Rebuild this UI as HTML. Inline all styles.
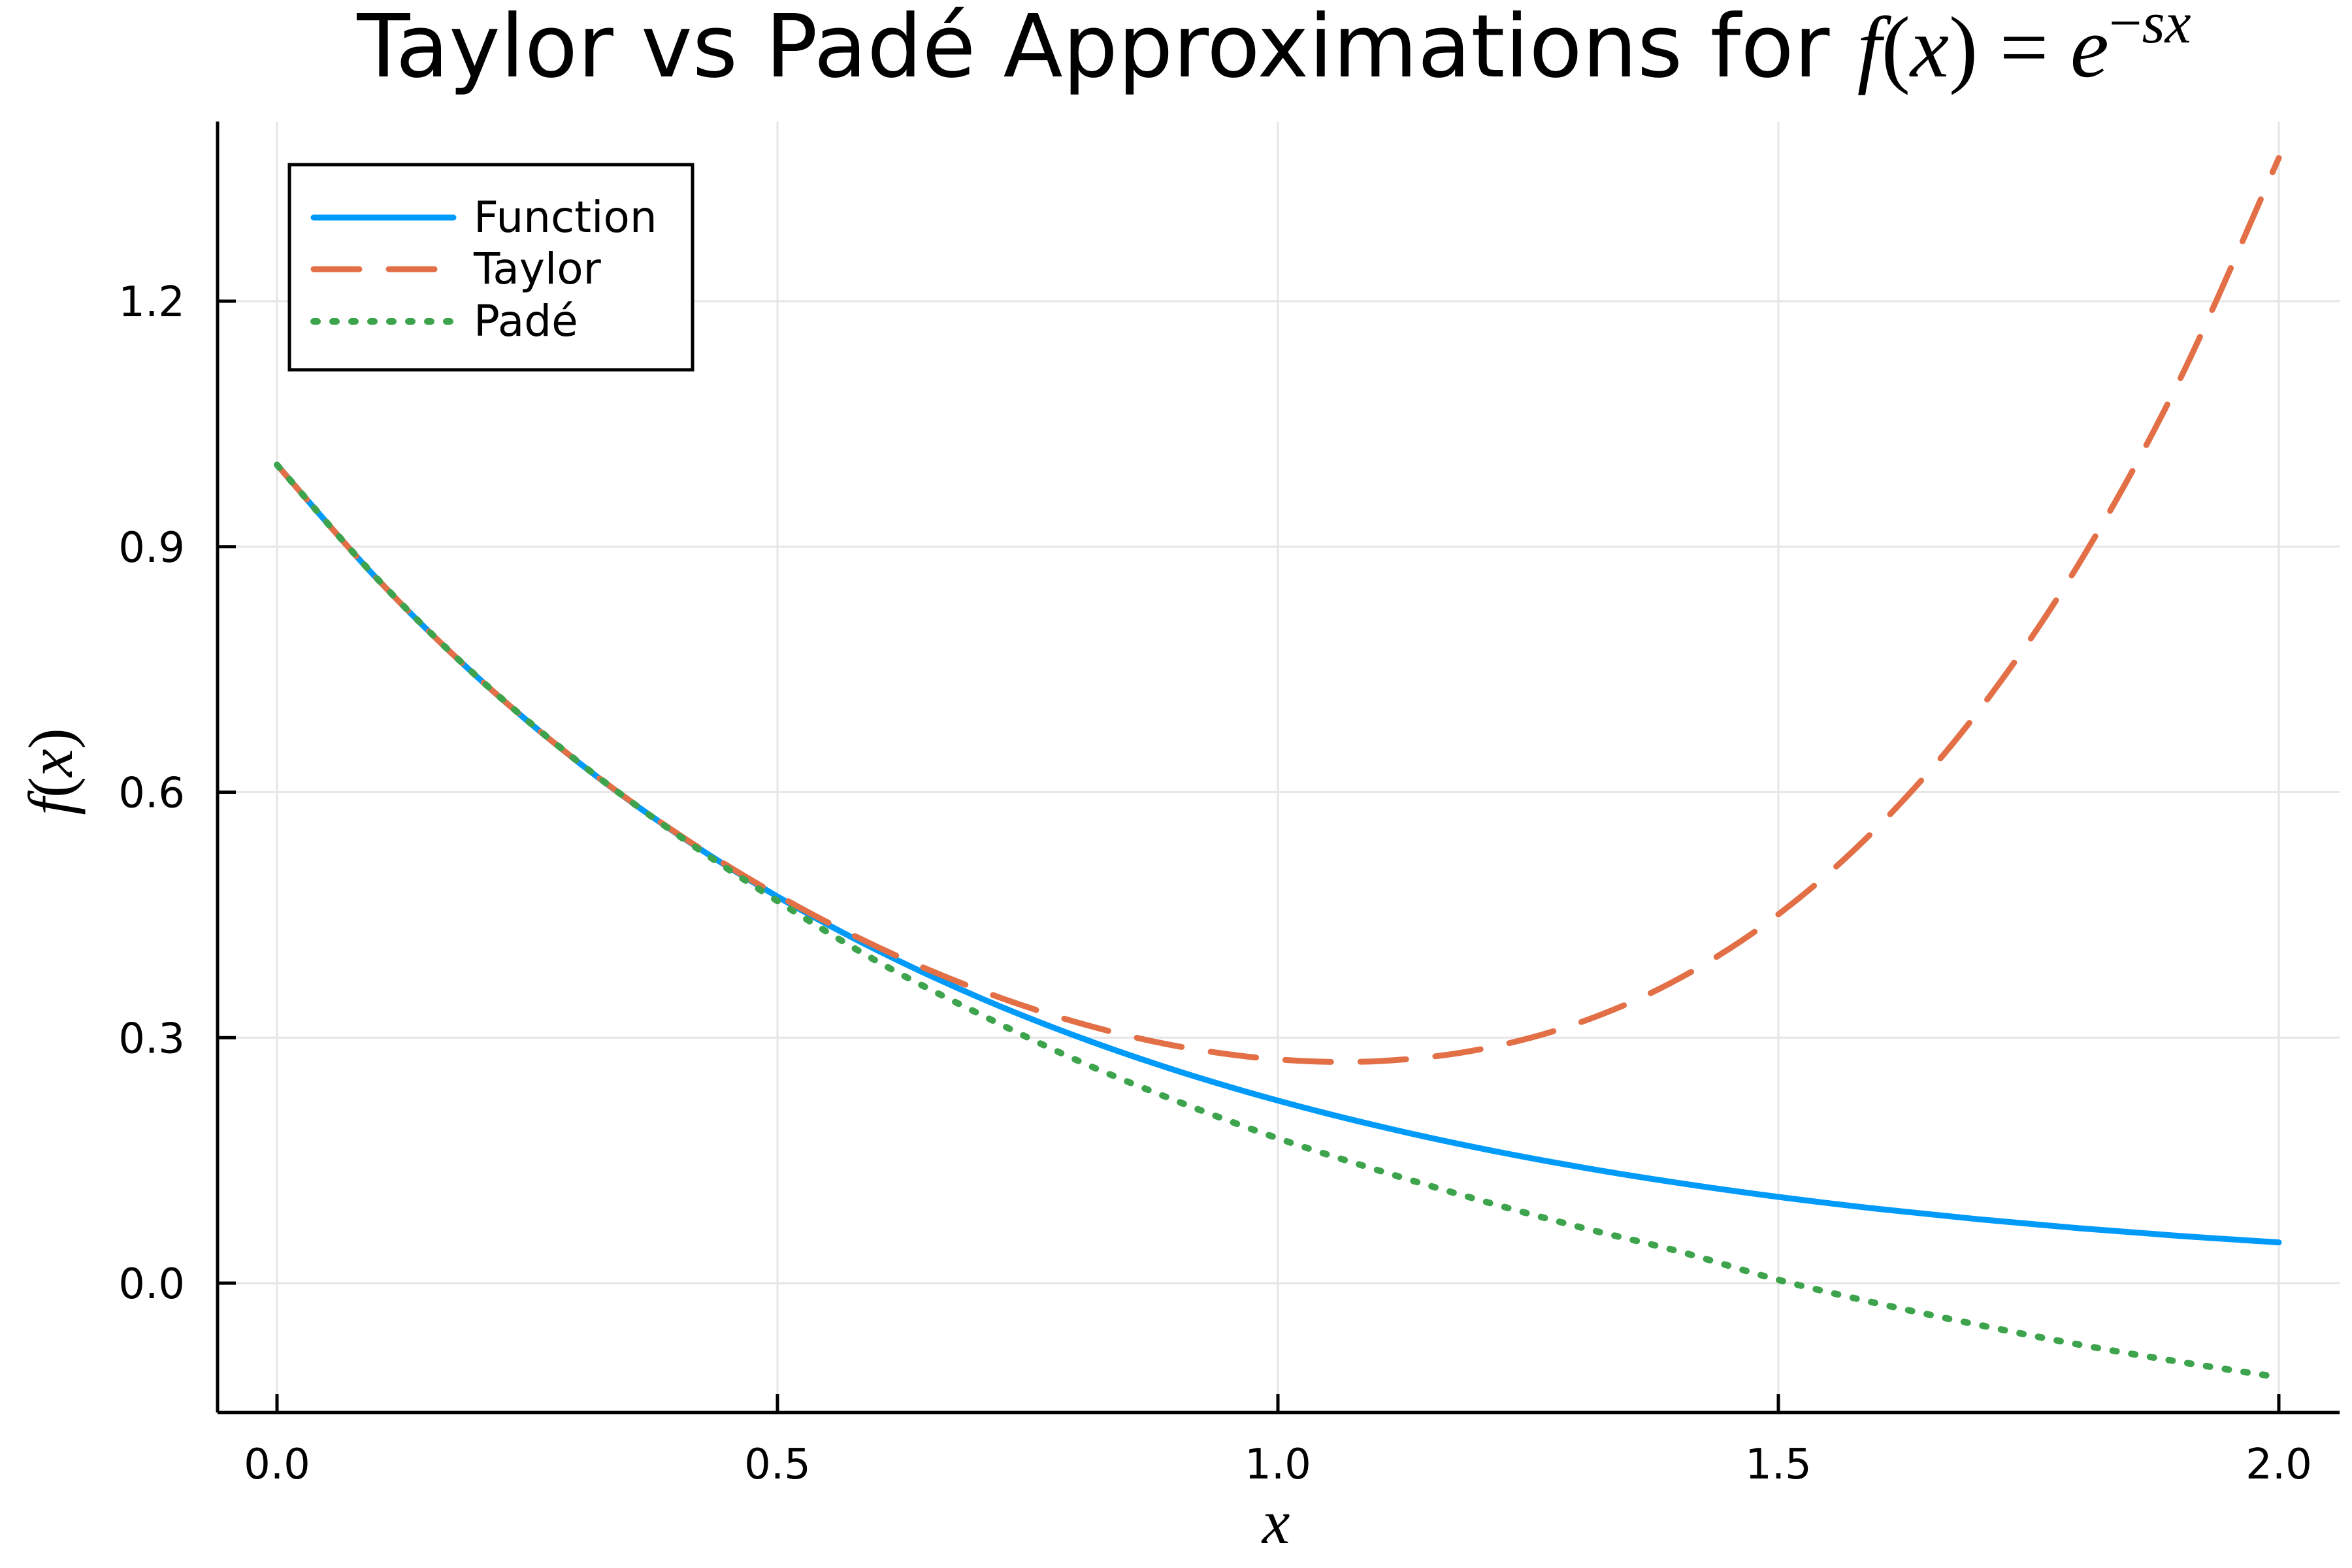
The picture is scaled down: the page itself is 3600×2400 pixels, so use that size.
<!DOCTYPE html>
<html><head><meta charset="utf-8"><style>
html,body{margin:0;padding:0;background:#fff;}
svg{display:block;}
.sans{font-family:"DejaVu Sans","Liberation Sans",sans-serif;}
.serif{font-family:"DejaVu Serif","Liberation Serif",serif;}
</style></head><body>
<svg id="chart" width="3600" height="2400" viewBox="0 0 3600 2400">
<rect width="3600" height="2400" fill="#fff"/>
<g id="grid"></g>
<g id="series"></g>
<g id="axes"></g>
<text class="sans" x="1950" y="117" text-anchor="middle" font-size="133" fill="#000">Taylor vs Padé Approximations for <tspan style="font-family:'Liberation Serif',serif;font-style:italic">f</tspan><tspan style="font-family:'Liberation Serif',serif">(</tspan><tspan style="font-family:'Liberation Serif',serif;font-style:italic">x</tspan><tspan style="font-family:'Liberation Serif',serif">) = </tspan><tspan style="font-family:'Liberation Serif',serif;font-style:italic">e</tspan><tspan style="font-family:'Liberation Serif',serif" font-size="90" dy="-52">−</tspan><tspan style="font-family:'Liberation Serif',serif;font-style:italic" font-size="90">sx</tspan></text>
<text x="1953" y="2362" text-anchor="middle" font-size="96" style="font-family:'Liberation Serif',serif;font-style:italic">x</text>
<text transform="translate(110,1181) rotate(-90)" text-anchor="middle" font-size="96" style="font-family:'Liberation Serif',serif"><tspan style="font-style:italic">f</tspan>(<tspan style="font-style:italic">x</tspan>)</text>
<g>
<rect x="443" y="252" width="617" height="314" fill="#fff" stroke="#000" stroke-width="5"/>
<line x1="480" y1="333" x2="694" y2="333" stroke="#009af9" stroke-width="9" stroke-linecap="round"/>
<text class="sans" x="725" y="355" font-size="66">Function</text>
<line x1="480" y1="412" x2="694" y2="412" stroke="#e26f46" stroke-width="9" stroke-linecap="round" stroke-dasharray="70 45"/>
<text class="sans" x="725" y="434" font-size="66">Taylor</text>
<line x1="480" y1="492" x2="694" y2="492" stroke="#3da44d" stroke-width="10" stroke-linecap="round" stroke-dasharray="6 23"/>
<text class="sans" x="725" y="514" font-size="66">Padé</text>
</g>
</svg>
<script>
const xs = [0,0.1,0.2,0.3,0.4,0.5,0.6,0.7,0.8,0.9,1.0,1.1,1.2,1.3,1.4,1.5,1.6,1.7,1.8,1.9,2.0];
const funcVals = [1,0.8607,0.7408,0.6376,0.5488,0.4724,0.4066,0.3499,0.3012,0.2592,0.2231,0.1921,0.1653,0.1423,0.1225,0.1054,0.0907,0.0781,0.0672,0.0578,0.0498];
const taylorVals = [1,0.8607,0.7408,0.6378,0.5494,0.4741,0.4108,0.3590,0.3184,0.2895,0.2734,0.2713,0.2853,0.3178,0.3717,0.4507,0.5584,0.6992,0.8786,1.1016,1.375];
const padeVals = [1,0.861,0.741,0.638,0.548,0.467,0.393,0.330,0.272,0.222,0.177,0.138,0.102,0.069,0.039,0.004,-0.025,-0.051,-0.075,-0.096,-0.115];
const xTicks = [0,0.5,1.0,1.5,2.0];
const xTickLabels = ["0.0","0.5","1.0","1.5","2.0"];
const yTicks = [0,0.3,0.6,0.9,1.2];
const yTickLabels = ["0.0","0.3","0.6","0.9","1.2"];

const NS='http://www.w3.org/2000/svg';
const L=333,R=3581,T=186,B=2162;
function sx(v){return 424+(v-0)*(3488-424)/2;}
function sy(v){return 1964-v*(1964-461)/1.2;}
function mk(tag,attrs,parent){const e=document.createElementNS(NS,tag);for(const k in attrs)e.setAttribute(k,attrs[k]);parent.appendChild(e);return e;}
const grid=document.getElementById('grid'),axes=document.getElementById('axes'),series=document.getElementById('series');
xTicks.forEach((t,i)=>{
  const g=mk('line',{x1:sx(t),x2:sx(t),y1:T,y2:B,stroke:'#e6e6e6','stroke-width':3},grid);
  
  
  const tk=mk('line',{x1:sx(t),x2:sx(t),y1:B,y2:B-28,stroke:'#000','stroke-width':5},axes);
  
  
  const tx=mk('text',{x:sx(t),y:2263,'text-anchor':'middle','font-size':64,'class':'sans'},axes);
  tx.textContent=xTickLabels[i];
  
  
});
yTicks.forEach((t,i)=>{
  const g=mk('line',{x1:L,x2:R,y1:sy(t),y2:sy(t),stroke:'#e6e6e6','stroke-width':3},grid);
  
  
  const tk=mk('line',{x1:L,x2:L+28,y1:sy(t),y2:sy(t),stroke:'#000','stroke-width':5},axes);
  
  
  const tx=mk('text',{x:283,y:sy(t)+23,'text-anchor':'end','font-size':64,'class':'sans'},axes);
  tx.textContent=yTickLabels[i];
  
  
});
const xa=mk('line',{x1:L,x2:R,y1:B,y2:B,stroke:'#000','stroke-width':5},axes);


const ya=mk('line',{x1:L,x2:L,y1:T,y2:B,stroke:'#000','stroke-width':5},axes);


function pathFor(vals){
  const p=xs.map((x,i)=>[sx(x),sy(vals[i])]);
  let d='M'+p[0][0]+','+p[0][1];
  for(let i=0;i<p.length-1;i++){
    const p0=p[Math.max(0,i-1)],p1=p[i],p2=p[i+1],p3=p[Math.min(p.length-1,i+2)];
    const c1=[p1[0]+(p2[0]-p0[0])/6,p1[1]+(p2[1]-p0[1])/6];
    const c2=[p2[0]-(p3[0]-p1[0])/6,p2[1]-(p3[1]-p1[1])/6];
    d+=' C'+c1+' '+c2+' '+p2;
  }
  return d;
}
const fLine=mk('path',{d:pathFor(funcVals),fill:'none',stroke:'#009af9','stroke-width':9,'stroke-linecap':'round'},series);


const tLine=mk('path',{d:pathFor(taylorVals),fill:'none',stroke:'#e26f46','stroke-width':9,'stroke-linecap':'round','stroke-dasharray':'70 45'},series);


const pLine=mk('path',{d:pathFor(padeVals),fill:'none',stroke:'#3da44d','stroke-width':10,'stroke-linecap':'round','stroke-dasharray':'6 23'},series);


</script>
</body></html>
